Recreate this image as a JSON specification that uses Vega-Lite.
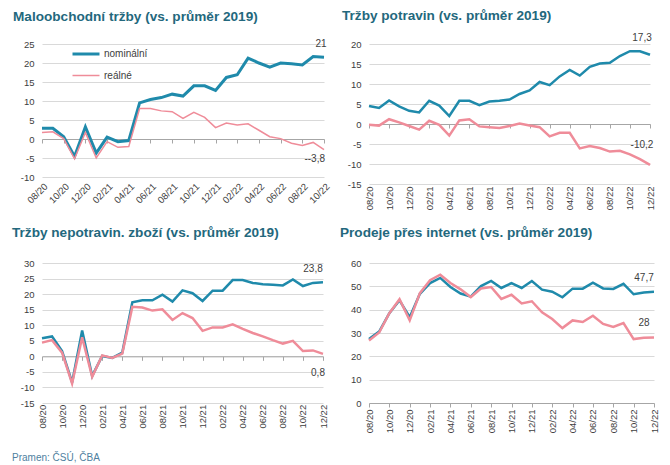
{
"$schema": "https://vega.github.io/schema/vega-lite/v6.json",
"padding": {"left": 12, "top": 9, "right": 5, "bottom": 5},
"background": "white",
"config": {
  "view": {"stroke": null},
  "font": "Liberation Sans",
  "axis": {"labelFont": "Liberation Sans", "labelFontSize": 9.5, "labelColor": "#404040", "gridColor": "#d9d9d9", "domainColor": "#a6a6a6", "tickColor": "#a6a6a6", "title": null},
  "axisY": {"domain": false, "ticks": false, "labelPadding": 8, "labelExpr": "'' + datum.value"},
  "axisX": {"grid": false, "tickSize": 4},
  "title": {"font": "Liberation Sans", "fontSize": 13.6, "fontWeight": "bold", "color": "#23687d", "anchor": "start", "offset": 10, "frame": "group"},
  "text": {"font": "Liberation Sans", "fontSize": 10, "color": "#404040"}
},
"title": {"text": "Pramen: ČSÚ, ČBA", "orient": "bottom", "anchor": "start", "frame": "bounds", "fontSize": 10, "fontWeight": "normal", "color": "#4f7fa0", "offset": 20},
"datasets": {
"p1": [
{"m":"08/20","s":"nominální","v":2.8},{"m":"09/20","s":"nominální","v":2.8},{"m":"10/20","s":"nominální","v":0.6},{"m":"11/20","s":"nominální","v":-4.6},{"m":"12/20","s":"nominální","v":3.2},{"m":"01/21","s":"nominální","v":-3.7},{"m":"02/21","s":"nominální","v":0.5},{"m":"03/21","s":"nominální","v":-0.7},{"m":"04/21","s":"nominální","v":-0.4},{"m":"05/21","s":"nominální","v":9.5},{"m":"06/21","s":"nominální","v":10.4},{"m":"07/21","s":"nominální","v":10.9},{"m":"08/21","s":"nominální","v":11.8},{"m":"09/21","s":"nominální","v":11.3},{"m":"10/21","s":"nominální","v":14.0},{"m":"11/21","s":"nominální","v":14.0},{"m":"12/21","s":"nominální","v":12.8},{"m":"01/22","s":"nominální","v":16.2},{"m":"02/22","s":"nominální","v":16.9},{"m":"03/22","s":"nominální","v":21.3},{"m":"04/22","s":"nominální","v":20.0},{"m":"05/22","s":"nominální","v":18.9},{"m":"06/22","s":"nominální","v":20.0},{"m":"07/22","s":"nominální","v":19.8},{"m":"08/22","s":"nominální","v":19.5},{"m":"09/22","s":"nominální","v":21.7},{"m":"10/22","s":"nominální","v":21.5,"t":"21"},
{"m":"08/20","s":"reálné","v":1.7},{"m":"09/20","s":"reálné","v":1.9},{"m":"10/20","s":"reálné","v":0.1},{"m":"11/20","s":"reálné","v":-5.2},{"m":"12/20","s":"reálné","v":1.7},{"m":"01/21","s":"reálné","v":-5.0},{"m":"02/21","s":"reálné","v":-0.7},{"m":"03/21","s":"reálné","v":-2.2},{"m":"04/21","s":"reálné","v":-2.0},{"m":"05/21","s":"reálné","v":8.0},{"m":"06/21","s":"reálné","v":8.0},{"m":"07/21","s":"reálné","v":7.4},{"m":"08/21","s":"reálné","v":7.2},{"m":"09/21","s":"reálné","v":5.4},{"m":"10/21","s":"reálné","v":7.0},{"m":"11/21","s":"reálné","v":5.7},{"m":"12/21","s":"reálné","v":3.0},{"m":"01/22","s":"reálné","v":4.2},{"m":"02/22","s":"reálné","v":3.7},{"m":"03/22","s":"reálné","v":4.0},{"m":"04/22","s":"reálné","v":2.3},{"m":"05/22","s":"reálné","v":0.6},{"m":"06/22","s":"reálné","v":0.1},{"m":"07/22","s":"reálné","v":-1.1},{"m":"08/22","s":"reálné","v":-1.7},{"m":"09/22","s":"reálné","v":-0.9},{"m":"10/22","s":"reálné","v":-2.8,"t":"--3,8"}
],
"p2": [
{"m":"08/20","s":"nominální","v":4.5},{"m":"09/20","s":"nominální","v":4.0},{"m":"10/20","s":"nominální","v":5.9},{"m":"11/20","s":"nominální","v":4.4},{"m":"12/20","s":"nominální","v":3.3},{"m":"01/21","s":"nominální","v":2.9},{"m":"02/21","s":"nominální","v":5.8},{"m":"03/21","s":"nominální","v":4.6},{"m":"04/21","s":"nominální","v":2.0},{"m":"05/21","s":"nominální","v":5.8},{"m":"06/21","s":"nominální","v":5.8},{"m":"07/21","s":"nominální","v":4.7},{"m":"08/21","s":"nominální","v":5.6},{"m":"09/21","s":"nominální","v":5.8},{"m":"10/21","s":"nominální","v":6.1},{"m":"11/21","s":"nominální","v":7.5},{"m":"12/21","s":"nominální","v":8.4},{"m":"01/22","s":"nominální","v":10.5},{"m":"02/22","s":"nominální","v":9.7},{"m":"03/22","s":"nominální","v":11.9},{"m":"04/22","s":"nominální","v":13.5},{"m":"05/22","s":"nominální","v":12.1},{"m":"06/22","s":"nominální","v":14.3},{"m":"07/22","s":"nominální","v":15.1},{"m":"08/22","s":"nominální","v":15.3},{"m":"09/22","s":"nominální","v":17.0},{"m":"10/22","s":"nominální","v":18.2},{"m":"11/22","s":"nominální","v":18.2},{"m":"12/22","s":"nominální","v":17.3,"t":"17,3"},
{"m":"08/20","s":"reálné","v":-0.2},{"m":"09/20","s":"reálné","v":-0.4},{"m":"10/20","s":"reálné","v":1.2},{"m":"11/20","s":"reálné","v":0.4},{"m":"12/20","s":"reálné","v":-0.5},{"m":"01/21","s":"reálné","v":-1.4},{"m":"02/21","s":"reálné","v":0.8},{"m":"03/21","s":"reálné","v":-0.2},{"m":"04/21","s":"reálné","v":-2.9},{"m":"05/21","s":"reálné","v":0.9},{"m":"06/21","s":"reálné","v":1.2},{"m":"07/21","s":"reálné","v":-0.6},{"m":"08/21","s":"reálné","v":-0.8},{"m":"09/21","s":"reálné","v":-1.0},{"m":"10/21","s":"reálné","v":-0.5},{"m":"11/21","s":"reálné","v":0.1},{"m":"12/21","s":"reálné","v":-0.4},{"m":"01/22","s":"reálné","v":-0.8},{"m":"02/22","s":"reálné","v":-3.1},{"m":"03/22","s":"reálné","v":-2.2},{"m":"04/22","s":"reálné","v":-2.2},{"m":"05/22","s":"reálné","v":-6.1},{"m":"06/22","s":"reálné","v":-5.5},{"m":"07/22","s":"reálné","v":-6.0},{"m":"08/22","s":"reálné","v":-6.9},{"m":"09/22","s":"reálné","v":-6.7},{"m":"10/22","s":"reálné","v":-7.6},{"m":"11/22","s":"reálné","v":-8.8},{"m":"12/22","s":"reálné","v":-10.2,"t":"-10,2"}
],
"p3": [
{"m":"08/20","s":"nominální","v":5.8},{"m":"09/20","s":"nominální","v":6.4},{"m":"10/20","s":"nominální","v":1.7},{"m":"11/20","s":"nominální","v":-8.4},{"m":"12/20","s":"nominální","v":8.3},{"m":"01/21","s":"nominální","v":-6.3},{"m":"02/21","s":"nominální","v":0.1},{"m":"03/21","s":"nominální","v":-0.5},{"m":"04/21","s":"nominální","v":1.2},{"m":"05/21","s":"nominální","v":17.4},{"m":"06/21","s":"nominální","v":18.0},{"m":"07/21","s":"nominální","v":18.0},{"m":"08/21","s":"nominální","v":19.8},{"m":"09/21","s":"nominální","v":17.6},{"m":"10/21","s":"nominální","v":21.2},{"m":"11/21","s":"nominální","v":20.3},{"m":"12/21","s":"nominální","v":17.8},{"m":"01/22","s":"nominální","v":21.1},{"m":"02/22","s":"nominální","v":21.1},{"m":"03/22","s":"nominální","v":24.5},{"m":"04/22","s":"nominální","v":24.5},{"m":"05/22","s":"nominální","v":23.6},{"m":"06/22","s":"nominální","v":23.2},{"m":"07/22","s":"nominální","v":23.0},{"m":"08/22","s":"nominální","v":22.8},{"m":"09/22","s":"nominální","v":24.7},{"m":"10/22","s":"nominální","v":22.6},{"m":"11/22","s":"nominální","v":23.6},{"m":"12/22","s":"nominální","v":23.8,"t":"23,8"},
{"m":"08/20","s":"reálné","v":4.4},{"m":"09/20","s":"reálné","v":5.2},{"m":"10/20","s":"reálné","v":1.2},{"m":"11/20","s":"reálné","v":-8.7},{"m":"12/20","s":"reálné","v":6.1},{"m":"01/21","s":"reálné","v":-6.6},{"m":"02/21","s":"reálné","v":0.3},{"m":"03/21","s":"reálné","v":-0.5},{"m":"04/21","s":"reálné","v":0.9},{"m":"05/21","s":"reálné","v":15.9},{"m":"06/21","s":"reálné","v":15.7},{"m":"07/21","s":"reálné","v":14.7},{"m":"08/21","s":"reálné","v":15.1},{"m":"09/21","s":"reálné","v":11.7},{"m":"10/21","s":"reálné","v":13.9},{"m":"11/21","s":"reálné","v":12.3},{"m":"12/21","s":"reálné","v":8.2},{"m":"01/22","s":"reálné","v":9.3},{"m":"02/22","s":"reálné","v":9.3},{"m":"03/22","s":"reálné","v":10.3},{"m":"04/22","s":"reálné","v":8.8},{"m":"05/22","s":"reálné","v":7.5},{"m":"06/22","s":"reálné","v":6.4},{"m":"07/22","s":"reálné","v":5.2},{"m":"08/22","s":"reálné","v":4.1},{"m":"09/22","s":"reálné","v":5.0},{"m":"10/22","s":"reálné","v":1.7},{"m":"11/22","s":"reálné","v":1.9},{"m":"12/22","s":"reálné","v":0.8,"t":"0,8"}
],
"p4": [
{"m":"08/20","s":"nominální","v":27.4},{"m":"09/20","s":"nominální","v":30.6},{"m":"10/20","s":"nominální","v":38.5},{"m":"11/20","s":"nominální","v":44.0},{"m":"12/20","s":"nominální","v":36.8},{"m":"01/21","s":"nominální","v":46.8},{"m":"02/21","s":"nominální","v":51.4},{"m":"03/21","s":"nominální","v":53.6},{"m":"04/21","s":"nominální","v":49.7},{"m":"05/21","s":"nominální","v":46.9},{"m":"06/21","s":"nominální","v":45.6},{"m":"07/21","s":"nominální","v":50.1},{"m":"08/21","s":"nominální","v":52.3},{"m":"09/21","s":"nominální","v":49.3},{"m":"10/21","s":"nominální","v":51.4},{"m":"11/21","s":"nominální","v":49.3},{"m":"12/21","s":"nominální","v":52.3},{"m":"01/22","s":"nominální","v":48.6},{"m":"02/22","s":"nominální","v":47.7},{"m":"03/22","s":"nominální","v":45.3},{"m":"04/22","s":"nominální","v":49.0},{"m":"05/22","s":"nominální","v":49.0},{"m":"06/22","s":"nominální","v":51.6},{"m":"07/22","s":"nominální","v":49.1},{"m":"08/22","s":"nominální","v":48.9},{"m":"09/22","s":"nominální","v":51.1},{"m":"10/22","s":"nominální","v":46.6},{"m":"11/22","s":"nominální","v":47.4},{"m":"12/22","s":"nominální","v":47.7,"t":"47,7"},
{"m":"08/20","s":"reálné","v":26.8},{"m":"09/20","s":"reálné","v":30.2},{"m":"10/20","s":"reálné","v":38.5},{"m":"11/20","s":"reálné","v":44.5},{"m":"12/20","s":"reálné","v":35.4},{"m":"01/21","s":"reálné","v":47.1},{"m":"02/21","s":"reálné","v":52.6},{"m":"03/21","s":"reálné","v":55.0},{"m":"04/21","s":"reálné","v":51.4},{"m":"05/21","s":"reálné","v":48.7},{"m":"06/21","s":"reálné","v":45.4},{"m":"07/21","s":"reálné","v":49.1},{"m":"08/21","s":"reálné","v":49.7},{"m":"09/21","s":"reálné","v":44.6},{"m":"10/21","s":"reálné","v":46.4},{"m":"11/21","s":"reálné","v":42.7},{"m":"12/21","s":"reálné","v":43.6},{"m":"01/22","s":"reálné","v":38.9},{"m":"02/22","s":"reálné","v":36.0},{"m":"03/22","s":"reálné","v":32.1},{"m":"04/22","s":"reálné","v":35.4},{"m":"05/22","s":"reálné","v":34.7},{"m":"06/22","s":"reálné","v":37.4},{"m":"07/22","s":"reálné","v":33.9},{"m":"08/22","s":"reálné","v":32.6},{"m":"09/22","s":"reálné","v":34.3},{"m":"10/22","s":"reálné","v":27.4},{"m":"11/22","s":"reálné","v":28.0},{"m":"12/22","s":"reálné","v":28.1,"t":"28"}
]
},
"columns": 2,
"bounds": "flush",
"spacing": {"row": 79, "column": 45},
"resolve": {"scale": {"color": "independent", "strokeWidth": "independent"}, "legend": {"color": "independent", "strokeWidth": "independent"}},
"concat": [
{
  "width": 282, "height": 133,
  "title": {"text": "Maloobchodní tržby (vs. průměr 2019)", "dx": -29, "offset": 15},
  "data": {"name": "p1"},
  "encoding": {
    "x": {"field": "m", "type": "ordinal", "sort": null, "scale": {"type": "point", "padding": 0},
      "axis": {"values": ["08/20","10/20","12/20","02/21","04/21","06/21","08/21","10/21","12/21","02/22","04/22","06/22","08/22","10/22"], "labelAngle": -45, "offset": -38, "labelPadding": 38}},
    "y": {"field": "v", "type": "quantitative", "scale": {"domain": [-10, 25]}, "axis": {"values": [-10,-5,0,5,10,15,20,25]}}
  },
  "layer": [
    {"mark": {"type": "line"},
     "encoding": {
       "color": {"field": "s", "type": "nominal", "scale": {"domain": ["nominální","reálné"], "range": ["#1f8aab","#ef8c99"]},
         "legend": {"orient": "none", "legendX": 29, "legendY": -5, "title": null, "symbolType": "stroke", "symbolSize": 729, "labelFontSize": 10, "labelColor": "#404040", "labelFont": "Liberation Sans", "rowPadding": 1, "labelOffset": 3, "padding": 0}},
       "strokeWidth": {"field": "s", "type": "nominal", "scale": {"domain": ["nominální","reálné"], "range": [3, 1.5]},
         "legend": {"orient": "none", "legendX": 29, "legendY": -5, "title": null, "symbolType": "stroke", "symbolSize": 729, "labelFontSize": 10, "labelColor": "#404040", "labelFont": "Liberation Sans", "rowPadding": 1, "labelOffset": 3, "padding": 0}}
     }},
    {"transform": [{"filter": "datum.t && datum.s == 'nominální'"}], "mark": {"type": "text", "dx": -3, "dy": -13}, "encoding": {"text": {"field": "t"}}},
    {"transform": [{"filter": "datum.t && datum.s == 'reálné'"}], "mark": {"type": "text", "align": "right", "dx": 1, "dy": 9}, "encoding": {"text": {"field": "t"}}}
  ]
},
{
  "width": 281, "height": 140,
  "title": {"text": "Tržby potravin (vs. průměr 2019)", "dx": -27},
  "data": {"name": "p2"},
  "encoding": {
    "x": {"field": "m", "type": "ordinal", "sort": null, "scale": {"type": "point", "padding": 0},
      "axis": {"values": ["08/20","10/20","12/20","02/21","04/21","06/21","08/21","10/21","12/21","02/22","04/22","06/22","08/22","10/22","12/22"], "labelAngle": -90, "offset": -60, "labelPadding": 58}},
    "y": {"field": "v", "type": "quantitative", "scale": {"domain": [-15, 20]}, "axis": {"values": [-15,-10,-5,0,5,10,15,20]}}
  },
  "layer": [
    {"mark": {"type": "line", "strokeWidth": 2.5},
     "encoding": {"color": {"field": "s", "type": "nominal", "scale": {"domain": ["nominální","reálné"], "range": ["#1f8aab","#ef8c99"]}, "legend": null}}},
    {"transform": [{"filter": "datum.t && datum.s == 'nominální'"}], "mark": {"type": "text", "dx": -8, "dy": -17}, "encoding": {"text": {"field": "t"}}},
    {"transform": [{"filter": "datum.t && datum.s == 'reálné'"}], "mark": {"type": "text", "dx": -8, "dy": -20}, "encoding": {"text": {"field": "t"}}}
  ]
},
{
  "width": 281, "height": 140,
  "title": {"text": "Tržby nepotravin. zboží (vs. průměr 2019)", "dx": -30, "offset": 18},
  "data": {"name": "p3"},
  "encoding": {
    "x": {"field": "m", "type": "ordinal", "sort": null, "scale": {"type": "point", "padding": 0},
      "axis": {"values": ["08/20","10/20","12/20","02/21","04/21","06/21","08/21","10/21","12/21","02/22","04/22","06/22","08/22","10/22","12/22"], "labelAngle": -90, "offset": -46.67, "labelPadding": 44}},
    "y": {"field": "v", "type": "quantitative", "scale": {"domain": [-15, 30]}, "axis": {"values": [-15,-10,-5,0,5,10,15,20,25,30]}}
  },
  "layer": [
    {"mark": {"type": "line", "strokeWidth": 2.5},
     "encoding": {"color": {"field": "s", "type": "nominal", "scale": {"domain": ["nominální","reálné"], "range": ["#1f8aab","#ef8c99"]}, "legend": null}}},
    {"transform": [{"filter": "datum.t && datum.s == 'nominální'"}], "mark": {"type": "text", "dx": -10, "dy": -13}, "encoding": {"text": {"field": "t"}}},
    {"transform": [{"filter": "datum.t && datum.s == 'reálné'"}], "mark": {"type": "text", "dx": -5, "dy": 19}, "encoding": {"text": {"field": "t"}}}
  ]
},
{
  "width": 285, "height": 140,
  "title": {"text": "Prodeje přes internet (vs. průměr 2019)", "dx": -29, "offset": 18},
  "data": {"name": "p4"},
  "encoding": {
    "x": {"field": "m", "type": "ordinal", "sort": null, "scale": {"type": "point", "padding": 0},
      "axis": {"values": ["08/20","10/20","12/20","02/21","04/21","06/21","08/21","10/21","12/21","02/22","04/22","06/22","08/22","10/22","12/22"], "labelAngle": -90, "labelPadding": 2}},
    "y": {"field": "v", "type": "quantitative", "scale": {"domain": [0, 60]}, "axis": {"values": [0,10,20,30,40,50,60]}}
  },
  "layer": [
    {"mark": {"type": "line", "strokeWidth": 2.5},
     "encoding": {"color": {"field": "s", "type": "nominal", "scale": {"domain": ["nominální","reálné"], "range": ["#1f8aab","#ef8c99"]}, "legend": null}}},
    {"transform": [{"filter": "datum.t && datum.s == 'nominální'"}], "mark": {"type": "text", "dx": -10, "dy": -14}, "encoding": {"text": {"field": "t"}}},
    {"transform": [{"filter": "datum.t && datum.s == 'reálné'"}], "mark": {"type": "text", "dx": -10, "dy": -14}, "encoding": {"text": {"field": "t"}}}
  ]
}
]
}
